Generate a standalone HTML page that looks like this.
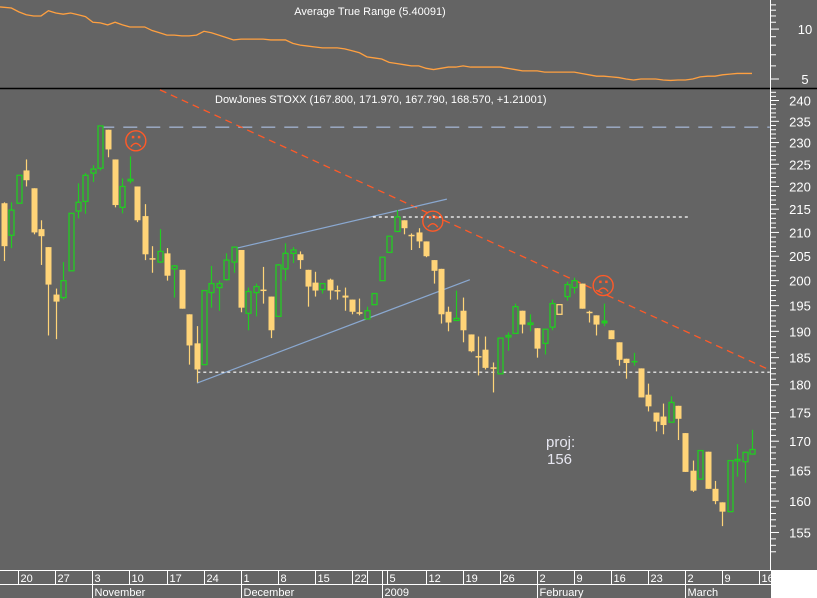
<!DOCTYPE html>
<html><head><meta charset="utf-8">
<style>
html,body{margin:0;padding:0;background:#646464;}
svg{display:block;font-family:"Liberation Sans",sans-serif;}
</style></head>
<body>
<svg id="chart" width="817" height="598" viewBox="0 0 817 598" xmlns="http://www.w3.org/2000/svg">
<rect x="0" y="0" width="817" height="598" fill="#646464"/>
<rect x="771" y="570" width="46" height="28" fill="#ffffff"/>
<line x1="0" y1="88.5" x2="817" y2="88.5" stroke="#000" stroke-width="1.5"/>
<line x1="770.5" y1="0" x2="770.5" y2="570" stroke="#fff"/>
<line x1="0" y1="570.5" x2="771" y2="570.5" stroke="#fff"/>
<line x1="0" y1="584.5" x2="771" y2="584.5" stroke="#fff"/>
<text x="370" y="15" fill="#fff" font-size="11" text-anchor="middle">Average True Range (5.40091)</text>
<text x="215" y="103" fill="#fff" font-size="11">DowJones STOXX (167.800, 171.970, 167.790, 168.570, +1.21001)</text>
<text x="546" y="447" fill="#e6e6f0" font-size="15">proj:</text>
<text x="547" y="464" fill="#e6e6f0" font-size="15">156</text>
<g id="g"></g>
</svg>
<script>
const opens=[216.3,209.4,216.3,223.6,219.6,210.7,206.9,197.2,196.6,202,214.6,216.7,223,224.1,233,226.1,215.4,221.4,220,213.5,204.6,203.8,205.6,202.4,202.2,193.3,187.7,183.7,197.6,198.6,200.2,203.8,206.3,193.5,197.6,198.2,196.8,192.9,202.4,205.6,205.4,202.2,199.6,198.2,200.2,198.1,197,196.2,193.7,192.4,195.2,200,205.8,210.2,212.6,209.5,210,208.1,204.2,202.4,193.8,192.1,194,189.4,185.3,186.5,183.2,182,189.0,189.6,194,191.4,190.6,187.7,190.8,193.3,196.8,198.6,199.4,193.8,193.1,192.1,190.2,187.9,184.8,184.4,183,178.2,175,174.3,173.3,176.2,171.4,165,163.6,168.2,162,159.8,158.3,166.8,166.5,167.8];
const highs=[216.5,216.5,222.5,226.1,219.6,212.6,206.9,198.4,203.8,214.1,220.7,223,224.8,233.9,233,226.1,221.8,226.8,220,216.1,207.1,210.7,206.7,203.2,202.2,193.3,191,198,203,200,205.6,206.9,206.3,198.6,199.4,202.8,196.8,203.4,207.7,206.9,206,202.2,201.8,199.4,200.4,199,198.6,196.2,196.4,194.8,197.4,204.8,209.2,214.8,212.6,209.8,210.9,208.1,204.2,202.4,194.8,198,196.6,189.4,189,189,184.1,188.7,189.8,195.4,194,193.3,190.6,190.4,196.2,195.2,199.8,200.6,199.4,194,193.1,195.4,190.2,187.9,184.8,185.9,183,180.2,175,176.6,177.9,176.2,171.4,166.7,168.4,168.2,163.3,159.8,166.7,169.5,168.1,171.97];
const lows=[204,206.7,216.3,220,209.6,203.2,189.2,188.5,196.2,202,213,214,221,223.6,226.6,215.4,214.1,220.7,212.2,204.2,201.6,203.6,200,196.6,194.4,183.7,180.4,183.7,194.6,194,200,201.6,193.7,190.2,192.9,195.4,188.7,192.9,200,203.6,202.4,194.8,196.8,197.4,196.2,196.2,194,193.3,193.1,192.4,195.2,200,205.8,210.2,209.6,206.3,206.7,204.8,199.4,191.5,190,192.1,187.9,186,181.7,182.8,178.6,182,186.3,189.6,189.6,190,185,185.6,190.2,193.3,196,197.4,194.4,191.7,189.2,191,188.5,183.5,181.1,183.5,177.7,175.2,171.7,171.2,173.3,170.2,164.8,161.5,163.6,162,159.5,156.0,158.3,164,163,167.79];
const closes=[207.1,214.8,222.5,221.4,210,209.2,199.2,195.8,200,214.1,216.5,222.5,223.9,233.9,228.4,215.9,220,221.6,212.6,205.4,204.4,206,201,203,194.4,187.3,182.8,198,199.4,199.4,204.2,206.9,194.6,197.8,198.8,198.0,190.2,203.2,205.6,206.3,204.2,198.8,198,199.4,198,197.9,196.6,193.8,193.5,194,197.4,204.8,209.2,213.3,210.9,209.3,208.1,205,202,193.3,191.7,192.5,190.2,186.2,185.1,183.1,183.0,188.7,189.2,194.8,191.3,191.6,186.7,190.4,195.4,195.2,199.2,200,194.4,193.7,191.3,191.5,188.5,184.6,184,184.1,177.7,176.1,173.4,172.8,176.8,173.9,164.8,161.7,168.4,162,160,158.3,166.7,166.9,168.1,168.57];
const atrValues=[13.6,13.4,12.7,12.2,12.0,12.0,12.9,12.5,12.3,12.5,12.2,11.9,11.0,10.9,10.6,11.0,10.6,10.3,10.3,10.3,9.8,9.5,9.2,9.2,9.1,9.1,9.2,9.7,9.5,9.2,8.9,8.6,8.7,8.7,8.7,8.7,8.6,8.6,8.6,8.2,8.0,7.9,7.8,7.7,7.7,7.7,7.6,7.4,7.2,6.8,6.7,6.6,6.3,6.2,6.1,6.0,6.0,5.8,5.7,5.8,5.9,5.9,6.0,5.9,5.9,5.9,5.9,5.9,5.8,5.7,5.6,5.6,5.6,5.5,5.5,5.5,5.5,5.5,5.4,5.3,5.2,5.2,5.15,5.1,5.0,4.93,5.0,5.0,5.0,4.93,4.9,4.93,4.93,5.0,5.15,5.2,5.2,5.3,5.35,5.4,5.4,5.4];
const priceTicks=[155,160,165,170,175,180,185,190,195,200,205,210,215,220,225,230,235,240];
const atrTicks=[5,10];
const dayLabels=["20","27","3","10","17","24","1","8","15","22","5","12","19","26","2","9","16","23","2","9","16"];
const dayPos=[2.4,7.4,12.4,17.4,22.5,27.5,32.5,37.5,42.5,47.5,52.2,57.5,62.5,67.5,72.5,77.5,82.5,87.5,92.5,97.5,102.5];
const monthLabels=["November","December","2009","February","March"];
const monthPos=[12.4,32.5,51.5,72.5,92.5];

const NS="http://www.w3.org/2000/svg";
const g=document.getElementById('g');
function xS(i){return 4+i*7.406;}
function yS(p){return 100.5+988*Math.log(240/p);}
function yA(v){return 79-72*Math.log(v/5);}
function mk(tag,attrs){const e=document.createElementNS(NS,tag);for(const k in attrs)e.setAttribute(k,attrs[k]);g.appendChild(e);return e;}

// price ticks
for(let p=152;p<=243;p++){
  const y=yS(p);if(y<92||y>568)continue;
  const major=p%5===0;
  const t=mk('line',{x1:770,x2:major?779:776,y1:y,y2:y,stroke:'#fff'});
  
  
}
priceTicks.forEach(p=>{
  const t=mk('text',{x:800,y:yS(p)+5,fill:'#fff','font-size':13,'text-anchor':'middle'});
  t.textContent=p;
  
  
});
for(let v=5;v<=15;v++){
  const y=yA(v);if(y<2||y>86)continue;
  const t=mk('line',{x1:770,x2:(v%5===0)?779:776,y1:y,y2:y,stroke:'#fff'});
  
  
}
atrTicks.forEach(v=>{
  const t=mk('text',{x:805,y:yA(v)+5,fill:'#fff','font-size':13,'text-anchor':'middle'});
  t.textContent=v;
  
  
});
// date axis
dayLabels.forEach((d,k)=>{
  const x=Math.round(xS(dayPos[k]-0.5))+0.5;
  const l=mk('line',{x1:x,x2:x,y1:570,y2:584,stroke:'#fff'});
  
  
  const t=mk('text',{x:x+2,y:582,fill:'#fff','font-size':11});
  t.textContent=d;
  
  
});
[49.5,51.5].forEach(i=>{
  const x=Math.round(xS(i-0.5))+0.5;
  const l=mk('line',{x1:x,x2:x,y1:570,y2:584,stroke:'#fff'});
  
  
});
monthLabels.forEach((m,k)=>{
  const x=Math.round(xS(monthPos[k]-0.5))+0.5;
  const l=mk('line',{x1:x,x2:x,y1:584,y2:598,stroke:'#fff'});
  
  
  const t=mk('text',{x:x+2,y:596,fill:'#fff','font-size':11});
  t.textContent=m;
  
  
});
// ATR line
let d='';
atrValues.forEach((v,i)=>{d+=(i?'L':'M')+(i?xS(i):0)+','+yA(v);});
const atr=mk('path',{d:d,fill:'none',stroke:'#ffa040','stroke-width':1.3});


// annotations
function ln(name,i1,p1,i2,p2,stroke,dash,w){
  const e=mk('line',{x1:xS(i1),y1:yS(p1),x2:xS(i2),y2:yS(p2),stroke:stroke,'stroke-width':w||1,'stroke-dasharray':dash||'none'});
  
  
}
ln('resistance-dashed-line',13,233.6,103.4,233.6,'#9fb0cc','14 9',1.3);
ln('downtrend-line',21.06,242.6,103.4,182.7,'#ff5a28','7 5',1.3);
ln('channel-upper-line',30.9,206.5,59.8,217.2,'#8aa8d0','',1.2);
ln('channel-lower-line',26.06,180.3,62.9,200.2,'#8aa8d0','',1.2);
ln('top-dotted-line',49.8,213.3,92.6,213.3,'#ffffff','3 3',1.2);
ln('support-dotted-line',26.1,182.3,103.4,182.3,'#ffffff','3 3',1.2);
// candles
opens.forEach((o,i)=>{
  const c=closes[i],h=highs[i],l=lows[i];
  const prev=i?closes[i-1]:Infinity;
  const col=c>=prev?'#22cc22':'#ffd478';
  const x=Math.round(xS(i));
  const w=mk('line',{x1:x+0.5,x2:x+0.5,y1:yS(h),y2:yS(l),stroke:col,'stroke-width':1.2});
  
  
  const top=yS(Math.max(o,c)),bot=yS(Math.min(o,c));
  const hh=Math.max(bot-top,1.5);
  let b;
  if(c>o){b=mk('rect',{x:x-2,y:top,width:5,height:hh,fill:'#646464',stroke:col,'stroke-width':1.3});}
  else{b=mk('rect',{x:x-2.5,y:top,width:6,height:hh,fill:col});}
  
  
});
// frowns
const frownIdx=[17.8,57.9,80.9];
const frownPrice=[230.4,212.4,199.0];
frownIdx.forEach((fi,k)=>{
  const cx=xS(fi),cy=yS(frownPrice[k]);
  const grp=document.createElementNS(NS,'g');
  
  
  g.appendChild(grp);
  const a=document.createElementNS(NS,'circle');
  a.setAttribute('cx',cx);a.setAttribute('cy',cy);a.setAttribute('r',10);a.setAttribute('fill','none');a.setAttribute('stroke','#ff5a28');a.setAttribute('stroke-width',1.4);
  grp.appendChild(a);
  [-4,2].forEach(dx=>{const e=document.createElementNS(NS,'rect');e.setAttribute('x',cx+dx);e.setAttribute('y',cy-5);e.setAttribute('width',2.5);e.setAttribute('height',2.5);e.setAttribute('fill','#ff5a28');grp.appendChild(e);});
  const m=document.createElementNS(NS,'path');
  m.setAttribute('d',`M${cx-5},${cy+6} Q${cx},${cy-1} ${cx+5},${cy+6}`);m.setAttribute('fill','none');m.setAttribute('stroke','#ff5a28');m.setAttribute('stroke-width',1.4);
  grp.appendChild(m);
});
</script>
</body></html>
